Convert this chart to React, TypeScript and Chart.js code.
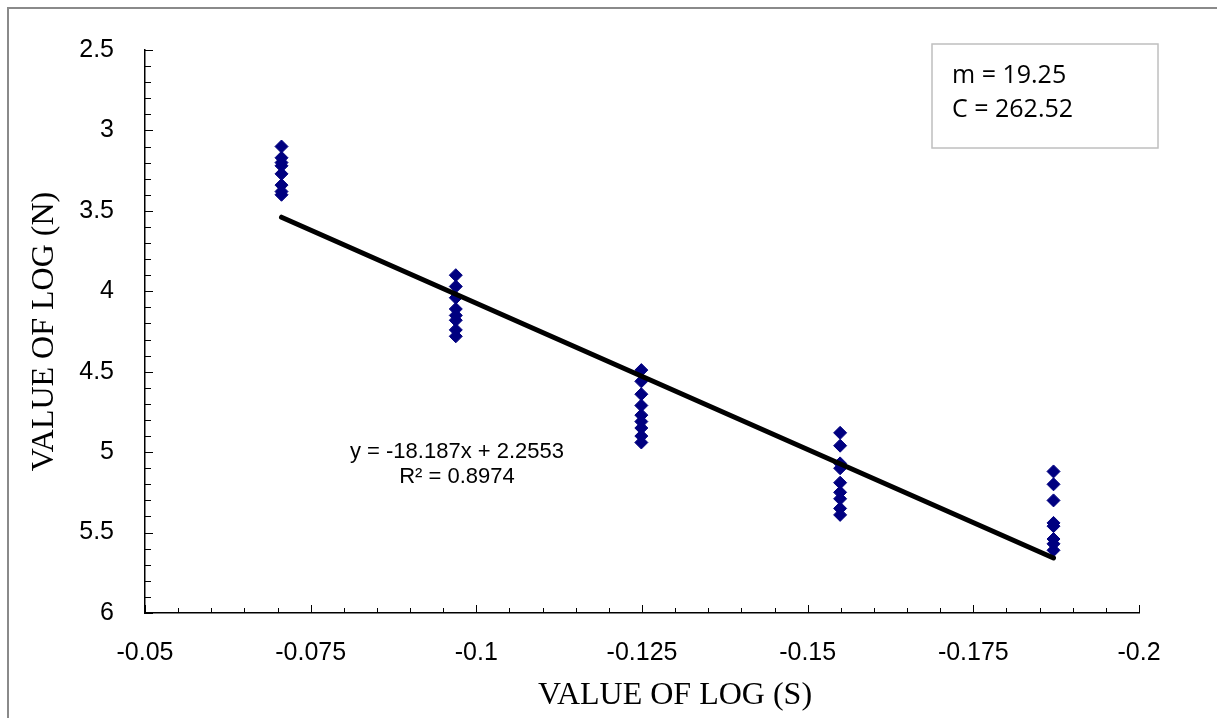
import React, { useEffect, useRef } from "react";
import { Chart, registerables } from "chart.js";

Chart.register(...registerables);

// log10 of stress ratio levels (0.85, 0.80, 0.75, 0.70, 0.65)
const stressLogs = [-0.0706, -0.0969, -0.1249, -0.1549, -0.1871];

// log10 of fatigue life at each stress level
const lifeLogsLevel1 = [3.1, 3.17, 3.2, 3.22, 3.27, 3.34, 3.38, 3.4];
const lifeLogsLevel2 = [3.9, 3.97, 4.04, 4.11, 4.15, 4.18, 4.24, 4.28];
const lifeLogsLevel3 = [4.49, 4.56, 4.64, 4.71, 4.77, 4.81, 4.85, 4.9, 4.94];
const lifeLogsLevel4 = [4.88, 4.96, 5.07, 5.1, 5.19, 5.25, 5.29, 5.35, 5.39];
const lifeLogsLevel5 = [5.12, 5.2, 5.3, 5.44, 5.46, 5.54, 5.57, 5.61];

const lifeLogGroups = [lifeLogsLevel1, lifeLogsLevel2, lifeLogsLevel3, lifeLogsLevel4, lifeLogsLevel5];

// linear trendline reported on the chart
const trendSlope = -18.187;
const trendIntercept = 2.2553;
const trendEquation = "y = -18.187x + 2.2553";
const trendR2 = "R² = 0.8974";

const fitParams = ["m = 19.25", "C = 262.52"];

const xAxisTitle = "VALUE OF LOG (S)";
const yAxisTitle = "VALUE OF LOG (N)";

const xRange = [-0.2, -0.05];
const yRange = [2.5, 6];

const decorPlugin = {
  id: "decor",
  afterDraw(chart: any) {
    const { ctx, chartArea, scales } = chart;
    const xs = scales.x;
    const ys = scales.y;
    ctx.save();
    ctx.strokeStyle = "#000";
    ctx.lineWidth = 1;
    // x ticks (inward), minor every 0.005
    for (let i = 0; i <= 30; i++) {
      const v = -0.05 - i * 0.005;
      const px = Math.round(xs.getPixelForValue(v)) + 0.5;
      const len = i % 5 === 0 ? 8 : 5;
      ctx.beginPath();
      ctx.moveTo(px, chartArea.bottom);
      ctx.lineTo(px, chartArea.bottom - len);
      ctx.stroke();
    }
    // y ticks (inward), minor every 0.1
    for (let i = 0; i <= 35; i++) {
      const v = 2.5 + i * 0.1;
      const py = Math.round(ys.getPixelForValue(v)) + 0.5;
      const len = i % 5 === 0 ? 8 : 6;
      ctx.beginPath();
      ctx.moveTo(chartArea.left, py);
      ctx.lineTo(chartArea.left + len, py);
      ctx.stroke();
    }

    // axis titles
    ctx.fillStyle = "#000";
    ctx.font = "32px 'Liberation Serif', 'Times New Roman', serif";
    ctx.textAlign = "center";
    ctx.textBaseline = "alphabetic";
    ctx.fillText(xAxisTitle, 675, 704);
    ctx.save();
    ctx.translate(53, (chartArea.top + chartArea.bottom) / 2);
    ctx.rotate(-Math.PI / 2);
    ctx.fillText(yAxisTitle, 0, 0);
    ctx.restore();

    // trendline equation
    ctx.font = "22px 'Liberation Sans', Arial, sans-serif";
    ctx.textAlign = "center";
    ctx.fillText(trendEquation, 457, 458);
    ctx.fillText(trendR2, 457, 483);

    // parameter box
    ctx.strokeStyle = "#bfbfbf";
    ctx.lineWidth = 1.5;
    ctx.strokeRect(932, 44, 226, 104);
    ctx.font = "25px 'Open Sans', sans-serif";
    ctx.textAlign = "left";
    ctx.fillText(fitParams[0], 952, 83);
    ctx.fillText(fitParams[1], 952, 117);
    ctx.restore();
  },
};

export default function App() {
  const canvasRef = useRef<HTMLCanvasElement | null>(null);

  useEffect(() => {
    if (!canvasRef.current) return;
    const points: { x: number; y: number }[] = [];
    stressLogs.forEach((s, gi) => {
      lifeLogGroups[gi].forEach((n) => points.push({ x: s, y: n }));
    });
    const xStart = stressLogs[0];
    const xEnd = stressLogs[stressLogs.length - 1];
    const trendPoints = [
      { x: xStart, y: trendSlope * xStart + trendIntercept },
      { x: xEnd, y: trendSlope * xEnd + trendIntercept },
    ];

    const tickFont = { family: "'Liberation Sans', Arial, sans-serif", size: 25 };

    const chart = new Chart(canvasRef.current, {
      type: "scatter",
      data: {
        datasets: [
          {
            type: "line",
            label: "Trend",
            data: trendPoints,
            borderColor: "#000",
            borderWidth: 5,
            borderCapStyle: "round",
            pointRadius: 0,
            showLine: true,
            fill: false,
          } as any,
          {
            label: "Data",
            data: points,
            pointStyle: "rectRot",
            pointRadius: 6.5,
            backgroundColor: "#000080",
            borderColor: "#000080",
            borderWidth: 1,
          },
        ],
      },
      options: {
        animation: false,
        responsive: false,
        events: [],
        layout: { padding: { top: 50, right: 78, left: 0, bottom: 0 } },
        plugins: { legend: { display: false }, tooltip: { enabled: false } },
        scales: {
          x: {
            type: "linear",
            position: "bottom",
            reverse: true,
            min: xRange[0],
            max: xRange[1],
            grid: { display: false },
            border: { display: true, color: "#000", width: 1.5 },
            ticks: {
              stepSize: 0.025,
              padding: 17,
              color: "#000",
              font: tickFont,
              maxRotation: 0,
              callback: (v: any) => Number(v).toFixed(3).replace(/0+$/, "").replace(/\.$/, ""),
            },
            afterFit: (s: any) => {
              s.height = 105;
            },
          },
          y: {
            type: "linear",
            reverse: true,
            min: yRange[0],
            max: yRange[1],
            grid: { display: false },
            border: { display: true, color: "#000", width: 1.5 },
            ticks: {
              stepSize: 0.5,
              padding: 23,
              color: "#000",
              font: tickFont,
              callback: (v: any) => String(Number(Number(v).toFixed(1))),
            },
            afterFit: (s: any) => {
              s.width = 145;
            },
          },
        },
      },
      plugins: [decorPlugin],
    });
    return () => chart.destroy();
  }, []);

  return (
    <>
      <div
        style={{
          position: "fixed",
          left: 7,
          top: 7,
          width: 1210,
          height: 711,
          borderLeft: "2px solid #8a8a8a",
          borderTop: "2px solid #8a8a8a",
          boxSizing: "border-box",
          background: "#fff",
        }}
      />
      <div style={{ position: "fixed", left: 0, top: 0, width: 1217, height: 718 }}>
        <canvas ref={canvasRef} width={1217} height={718} style={{ display: "block" }} />
      </div>
    </>
  );
}
